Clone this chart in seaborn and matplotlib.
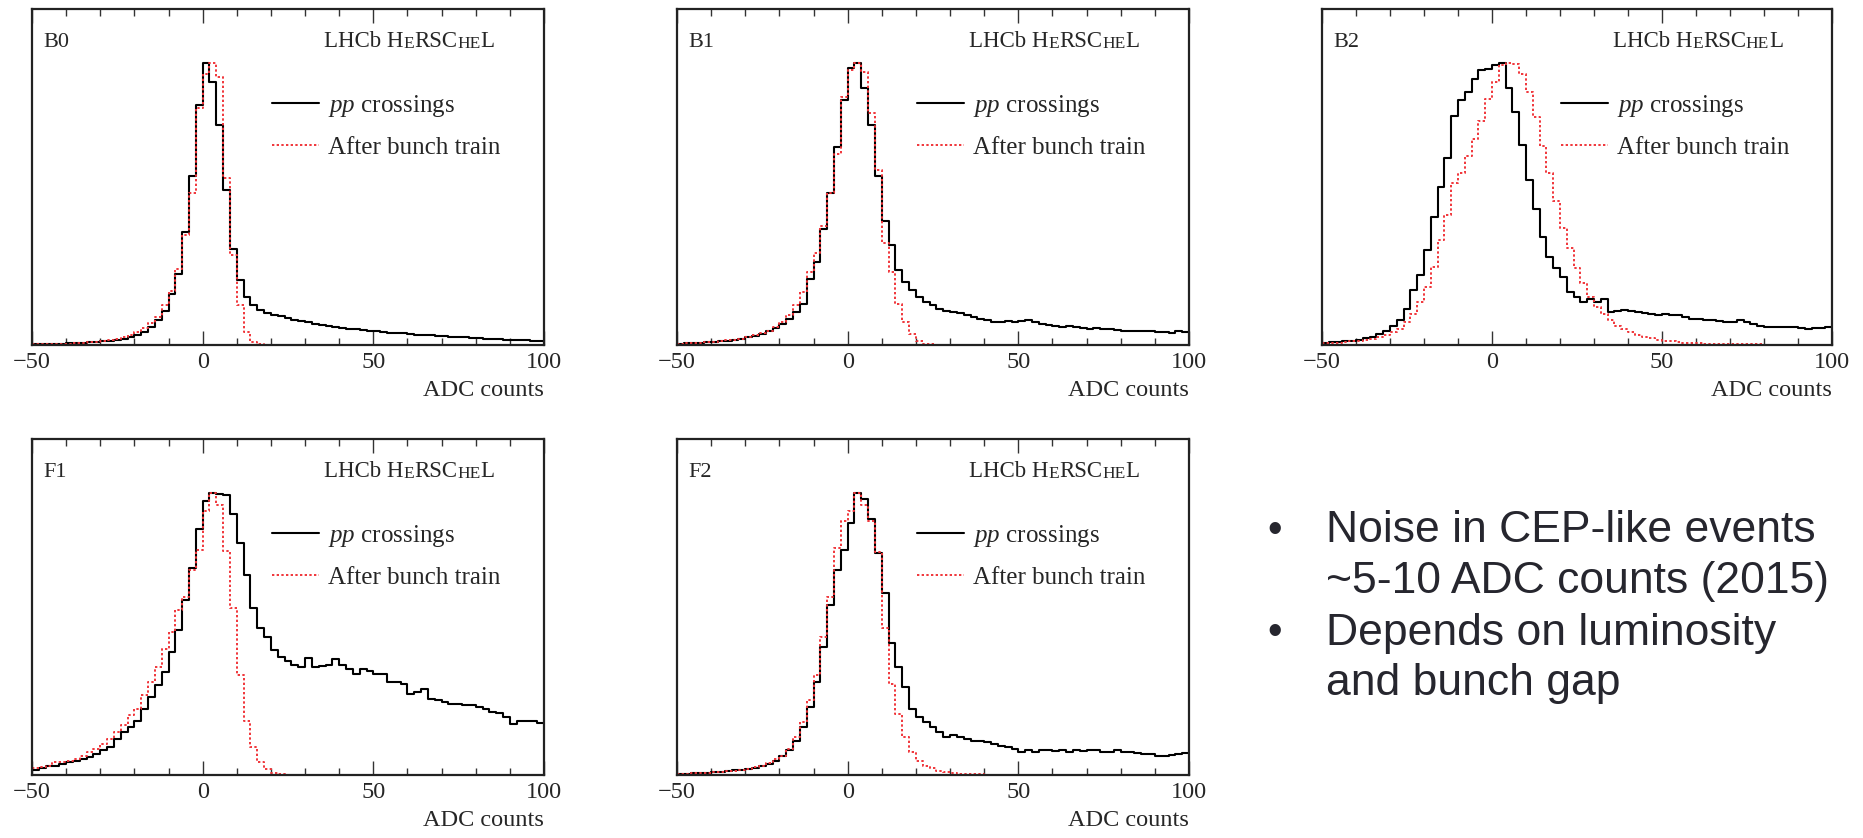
import matplotlib
matplotlib.use("Agg")
import matplotlib.pyplot as plt
from matplotlib.lines import Line2D
from matplotlib.ticker import MultipleLocator
import numpy as np
import pandas as pd
import seaborn as sns

sns.set_style("ticks")
plt.rcParams['font.family'] = ['Liberation Serif', 'DejaVu Serif']
plt.rcParams['mathtext.fontset'] = 'custom'
plt.rcParams['mathtext.rm'] = 'Liberation Serif'
plt.rcParams['mathtext.it'] = 'Liberation Serif:italic'

# ADC count bins, 2 counts wide, from -50 to 100
bin_centres = np.arange(-49, 100, 2)

# histogram heights, peak scaled to 100
b0_pp = [0.3, 0.3, 0.4, 0.4, 0.5, 0.6, 0.7, 0.8, 1.0, 1.1,
         1.3, 1.5, 1.7, 2.0, 2.7, 3.5, 4.7, 6.5, 9.0, 12.0,
         18, 25, 40, 60, 85,
         100, 93, 78, 55, 34, 23, 17, 14, 12.4, 11.5,
         10.8, 10.2, 9.6, 9.0, 8.4, 8.0, 7.6, 7.2, 6.9, 6.5,
         6.0, 5.8, 5.5, 5.3, 5.0, 4.8, 4.6, 4.4, 4.2, 4.1,
         3.9, 3.7, 3.5, 3.4, 3.2, 3.1, 3.0, 2.8, 2.7, 2.6,
         2.4, 2.3, 2.2, 2.0, 1.9, 1.8, 1.7, 1.6, 1.5, 1.5]
b0_train = [0.2, 0.3, 0.3, 0.4, 0.4, 0.5, 0.6, 0.8, 1.0, 1.2,
            1.5, 1.8, 2.1, 2.7, 3.5, 4.5, 6.0, 7.7, 10, 14,
            19, 27, 39, 54, 84,
            96, 100, 95, 59, 32, 14, 4.7, 1.2, 0.3, 0.1,
            0, 0, 0, 0, 0, 0, 0, 0, 0, 0,
            0, 0, 0, 0, 0, 0, 0, 0, 0, 0,
            0, 0, 0, 0, 0, 0, 0, 0, 0, 0,
            0, 0, 0, 0, 0, 0, 0, 0, 0, 0]

b1_pp = [0.5, 0.6, 0.7, 0.8, 0.95, 1.1, 1.3, 1.5, 1.9, 2.1,
         2.7, 3.3, 3.9, 4.8, 5.9, 7.5, 9.3, 11.7, 14.6, 23.5,
         29.5, 41, 54, 70, 86.6,
         98, 100, 91, 78, 60, 44, 35.5, 26.5, 22.4, 19.4,
         17, 15.2, 14, 12.8, 12.2, 11.7, 11.4, 10.5, 9.9, 9.3,
         8.9, 8.3, 8.1, 8.4, 8.1, 8.4, 8.7, 8.1, 7.5, 7.1,
         6.9, 6.5, 6.9, 6.3, 6.1, 5.7, 6.1, 5.5, 5.7, 5.4,
         5.1, 5.1, 4.9, 5.0, 4.8, 4.5, 4.5, 4.3, 5.1, 4.5]
b1_train = [0.5, 0.6, 0.7, 0.8, 1.0, 1.2, 1.4, 1.7, 1.9, 2.3,
            2.7, 3.4, 4.2, 5.1, 6.3, 8.1, 10.5, 14, 18.8, 26,
            32.5, 42, 54, 67.5, 87.8,
            97.5, 100, 96.7, 82, 62, 36, 26, 14.6, 8.1, 3.9,
            1.3, 0.4, 0.2, 0.1, 0.1, 0, 0, 0, 0, 0,
            0, 0, 0, 0, 0, 0, 0, 0, 0, 0,
            0, 0, 0, 0, 0, 0, 0, 0, 0, 0,
            0, 0, 0, 0, 0, 0, 0, 0, 0, 0]

b2_pp = [0.8, 1.0, 1.1, 1.3, 1.5, 1.9, 2.4, 3.0, 3.9, 5.1,
         6.9, 8.7, 12.8, 19.4, 24.7, 33.7, 45.5, 56, 66.4, 81.2,
         86.6, 89.5, 94.3, 97.3, 97.9,
         99, 100, 91, 82.4, 71, 58.6, 48, 38.4, 31.3, 27.1,
         24.1, 18.8, 17, 15.2, 16.4, 15.2, 16.4, 11.7, 12.2, 12.5,
         12.2, 11.7, 11.3, 11.0, 10.8, 11.0, 10.8, 10.5, 9.9, 9.3,
         9.3, 8.9, 8.7, 8.4, 8.1, 8.1, 8.7, 8.1, 7.5, 6.9,
         6.5, 6.3, 6.5, 6.3, 6.5, 6.1, 5.7, 6.0, 6.0, 6.3]
b2_train = [0.6, 0.7, 0.8, 1.1, 1.3, 1.5, 1.9, 2.3, 2.7, 3.6,
            4.5, 5.7, 8.1, 11.1, 15.2, 20.6, 27.7, 37.2, 46.1, 57.4,
            61, 67, 72.9, 79.4, 87,
            93, 99, 100, 99.6, 96, 89.5, 80.6, 70.5, 61, 50.9,
            41.4, 34.2, 27.1, 21.8, 17, 13.4, 11.1, 8.7, 6.9, 5.7,
            4.5, 3.7, 3.0, 2.4, 1.9, 1.5, 1.3, 1.1, 0.8, 0.7,
            0.6, 0.5, 0.4, 0.3, 0.3, 0.2, 0.2, 0.2, 0.2, 0.2,
            0.1, 0.1, 0.1, 0.1, 0.1, 0.1, 0.1, 0.1, 0.1, 0.1]

f1_pp = [1.9, 2.4, 3.1, 3.3, 3.9, 4.5, 5.1, 5.7, 6.3, 7.5,
         8.7, 9.8, 12.8, 15.2, 17, 19.3, 23.5, 27.6, 31.8, 36.5,
         43.7, 51.4, 62, 73.3, 87,
         97, 100, 99.4, 99.2, 92.3, 82.2, 71, 59, 52, 49,
         44.2, 41.9, 40.3, 38.9, 38.3, 41.5, 38.3, 38.7, 38.9, 41,
         38.9, 37.5, 35.6, 37.7, 36.8, 35.9, 35.6, 33, 33, 32.4,
         28.8, 29.4, 30.6, 27, 26.5, 25.9, 25.3, 25.3, 24.7, 24.9,
         24.1, 23.5, 22.3, 22, 20.5, 18.1, 19.3, 19.3, 19, 18.5]
f1_train = [2.4, 2.7, 3.3, 4.5, 4.7, 5.1, 5.7, 6.9, 8.1, 9.3,
            11, 12.8, 15.2, 17.6, 21.1, 23.5, 28.2, 33, 38.3, 44.8,
            50.8, 58.5, 63.2, 72.7, 79.8,
            93.5, 100, 95.6, 79.2, 59, 35.4, 19.3, 9.8, 4.5, 2.1,
            0.7, 0.3, 0.1, 0.1, 0, 0, 0, 0, 0, 0,
            0, 0, 0, 0, 0, 0, 0, 0, 0, 0,
            0, 0, 0, 0, 0, 0, 0, 0, 0, 0,
            0, 0, 0, 0, 0, 0, 0, 0, 0, 0]

f2_pp = [0.4, 0.5, 0.6, 0.7, 0.8, 0.9, 1.2, 1.4, 1.7, 1.9,
         2.1, 2.5, 3.1, 3.9, 5.1, 6.9, 8.7, 12.2, 17, 24.1,
         33, 45.4, 60.3, 72.7, 79.8,
         89.3, 100, 97.6, 90.5, 78.6, 64.4, 46.6, 38.3, 31.2, 23.5,
         20.5, 18.7, 17, 15.2, 13.4, 14, 13.4, 12.8, 12.2, 11.9,
         11.6, 11, 10.4, 9.8, 9.3, 8.1, 8.7, 8.3, 8.7, 8.7,
         8.5, 8.7, 8.3, 8.7, 8.5, 8.7, 8.7, 8.3, 8.1, 8.7,
         8.1, 8.3, 7.7, 7.5, 7.5, 6.9, 6.7, 7.2, 7.4, 7.9]
f2_train = [0.4, 0.5, 0.6, 0.7, 0.8, 1.1, 1.2, 1.3, 1.5, 1.8,
            2.1, 2.7, 3.3, 4.2, 5.7, 6.9, 9.3, 13.4, 18.7, 26.5,
            35.4, 49, 63.2, 80.4, 90,
            93.5, 100, 95.8, 90, 79, 52, 32.4, 21.7, 13.4, 8.1,
            5.1, 3.3, 2.4, 1.5, 0.9, 0.6, 0.4, 0.3, 0.3, 0.2,
            0.1, 0.1, 0.1, 0.1, 0.1, 0.1, 0.1, 0, 0, 0,
            0, 0, 0, 0, 0, 0, 0, 0, 0, 0,
            0, 0, 0, 0, 0, 0, 0, 0, 0, 0]

panel_names = ["B0", "B1", "B2", "F1", "F2"]
pp_series = [b0_pp, b1_pp, b2_pp, f1_pp, f2_pp]
train_series = [b0_train, b1_train, b2_train, f1_train, f2_train]
legend_labels = [r"$\mathit{pp}$ crossings", "After bunch train"]
bullets = ["Noise in CEP-like events", "~5-10 ADC counts (2015)",
           "Depends on luminosity", "and bunch gap"]

W, H = 1863, 838
fig = plt.figure(figsize=(W / 100, H / 100), dpi=100)
# panel boxes in pixels: left, top, width, height
boxes = [(32, 9, 512, 336), (677, 9, 512, 336), (1322, 9, 510, 336),
         (32, 439, 512, 336), (677, 439, 512, 336)]

red = '#f0353a'
dots = (0, (1.2, 1.2))


def herschel_label(ax, x, y):
    # LHCb HeRSCheL with small capitals
    pieces = [("LHCb H", 16.5), ("E", 12.5), ("RSC", 16.5), ("HE", 12.5), ("L", 16.5)]
    t = ax.text(x, y, pieces[0][0], transform=ax.transAxes, fontsize=pieces[0][1],
                va='bottom', ha='left')
    for s, fs in pieces[1:]:
        t = ax.annotate(s, xy=(1, 0), xycoords=t, fontsize=fs, va='bottom', ha='left')


for name, pp, train, (l, t, w, h) in zip(panel_names, pp_series, train_series, boxes):
    ax = fig.add_axes([l / W, 1 - (t + h) / H, w / W, h / H])
    df = pd.DataFrame({"adc": bin_centres, "pp": pp, "train": train})
    sns.histplot(data=df, x="adc", weights="pp", binwidth=2, binrange=(-50, 100),
                 element="step", fill=False, color='black', linewidth=1.5, ax=ax)
    sns.histplot(data=df, x="adc", weights="train", binwidth=2, binrange=(-50, 100),
                 element="step", fill=False, color=red, linewidth=1.4, linestyle=dots, ax=ax)
    ax.set_xlim(-50, 100)
    ax.set_ylim(0, 119)
    ax.set_yticks([])
    ax.set_ylabel("")
    ax.set_xticks([-50, 0, 50, 100])
    ax.xaxis.set_minor_locator(MultipleLocator(10))
    ax.tick_params(axis='x', which='both', direction='in', top=True, bottom=True,
                   labelsize=17.5, color='#333333', width=1.0, pad=5)
    ax.tick_params(axis='x', which='major', length=10)
    ax.tick_params(axis='x', which='minor', length=5)
    for sp in ax.spines.values():
        sp.set_visible(True)
        sp.set_linewidth(1.6)
        sp.set_color('#222222')
    ax.set_xlabel("ADC counts", fontsize=17.5, loc='right')
    ax.xaxis.set_label_coords(1.0, -0.105)
    ax.xaxis.label.set_va('top')

    ax.text(0.023, 0.9, name, transform=ax.transAxes, fontsize=16, va='center', ha='left')
    herschel_label(ax, 0.57, 0.872)

    handles = [Line2D([], [], color='black', linewidth=1.5),
               Line2D([], [], color=red, linewidth=1.4, linestyle=dots)]
    ax.legend(handles, legend_labels, loc='upper left', bbox_to_anchor=(0.468, 0.75),
              frameon=False, fontsize=18, handlelength=1.9, handletextpad=0.35,
              labelspacing=0.68, borderpad=0, borderaxespad=0)

# bullet notes on the right
for i, line in enumerate(bullets):
    y = 531 + i * 51
    if i in (0, 2):
        fig.text(1267 / W, 1 - y / H, "•", fontsize=30, family='Liberation Sans',
                 color='#26262e', va='center', ha='left')
    fig.text(1326 / W, 1 - y / H, line, fontsize=32, family='Liberation Sans',
             color='#26262e', va='center', ha='left')

fig.savefig("out.png", dpi=100)
